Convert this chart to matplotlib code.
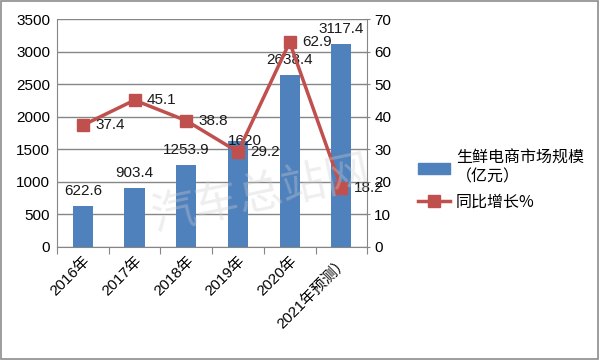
import matplotlib
matplotlib.use("Agg")
import matplotlib.pyplot as plt
from matplotlib.patches import Rectangle
from matplotlib.lines import Line2D

plt.rcParams['font.family'] = ['Liberation Sans', 'Noto Sans CJK SC', 'DejaVu Sans']

categories = ['2016年', '2017年', '2018年', '2019年', '2020年', '2021年预测）']
market_size = [622.6, 903.4, 1253.9, 1620, 2638.4, 3117.4]
growth = [37.4, 45.1, 38.8, 29.2, 62.9, 18.2]
size_labels = ['622.6', '903.4', '1253.9', '1620', '2638.4', '3117.4']
growth_labels = ['37.4', '45.1', '38.8', '29.2', '62.9', '18.2']
left_ticks = [0, 500, 1000, 1500, 2000, 2500, 3000, 3500]
right_ticks = [0, 10, 20, 30, 40, 50, 60, 70]

bar_color = '#4F81BD'
line_color = '#C0504D'

fig = plt.figure(figsize=(6, 3.6), dpi=100)
fig.patches.append(Rectangle((0.002, 0.003), 0.995, 0.993, transform=fig.transFigure,
                             fill=False, edgecolor='#8c8c8c', linewidth=1.2))
ax = fig.add_axes([0.095, 0.314, 0.517, 0.633])
x = list(range(len(categories)))
ax.bar(x, market_size, width=0.39, color=bar_color, zorder=2)
ax.set_xlim(-0.5, 5.5)
ax.set_ylim(0, 3500)
ax.set_yticks(left_ticks)
ax.yaxis.grid(True, color='#868686', linewidth=1.0, zorder=0)
ax.set_axisbelow(True)
for s in ['top', 'right']:
    ax.spines[s].set_visible(False)
ax.spines['left'].set_color('#868686')
ax.spines['bottom'].set_color('#868686')
ax.tick_params(axis='y', length=0, labelsize=11, pad=5)
ax.set_xticks([i - 0.5 for i in range(len(categories) + 1)], minor=False)
ax.set_xticklabels([])
ax.tick_params(axis='x', which='major', length=5, color='#868686', direction='out')
ax.set_xticks(x, minor=True)
ax.set_xticklabels(categories, minor=True, rotation=45, ha='right', va='top',
                   rotation_mode='anchor', fontsize=11)
ax.tick_params(axis='x', which='minor', length=0, pad=5)

for i, (xi, v, lab) in enumerate(zip(x, market_size, size_labels)):
    if i == 3:
        ax.annotate(lab, (xi, v), xytext=(5, 0), textcoords='offset points',
                    ha='center', va='center', fontsize=11, color='#1a1a1a', zorder=5)
    else:
        ax.annotate(lab, (xi, v), xytext=(0, 6), textcoords='offset points',
                    ha='center', va='bottom', fontsize=11, color='#1a1a1a', zorder=5)

ax2 = ax.twinx()
ax2.set_ylim(0, 70)
ax2.set_yticks(right_ticks)
ax2.plot(x, growth, color=line_color, linewidth=2.5, marker='s', markersize=9,
         markerfacecolor=line_color, markeredgecolor=line_color, zorder=4)
for s in ['top', 'left', 'bottom']:
    ax2.spines[s].set_visible(False)
ax2.spines['right'].set_color('#868686')
ax2.tick_params(axis='y', length=4, direction='inout', color='#868686', labelsize=11, pad=3)
for xi, v, lab in zip(x, growth, growth_labels):
    ax2.annotate(lab, (xi, v), xytext=(9, 0), textcoords='offset points',
                 ha='left', va='center', fontsize=11, color='#1a1a1a', zorder=5)

fig.text(0.435, 0.46, '汽车总站网', fontsize=32, color='#cfcfcf', alpha=0.35,
         rotation=12, ha='center', va='center', family=['Noto Sans CJK SC'])

h1 = Rectangle((0, 0), 1, 1, color=bar_color)
h2 = Line2D([0], [0], color=line_color, linewidth=2.5, marker='s', markersize=9)
leg = fig.legend([h1, h2], ['生鲜电商市场规模\n（亿元）', '同比增长%'],
                 loc='center left', bbox_to_anchor=(0.672, 0.50), frameon=False,
                 prop={'family': ['Noto Sans CJK SC'], 'size': 11.5},
                 handlelength=2.0, labelspacing=0.5, handletextpad=0.4)

fig.savefig('out.png', dpi=100)
